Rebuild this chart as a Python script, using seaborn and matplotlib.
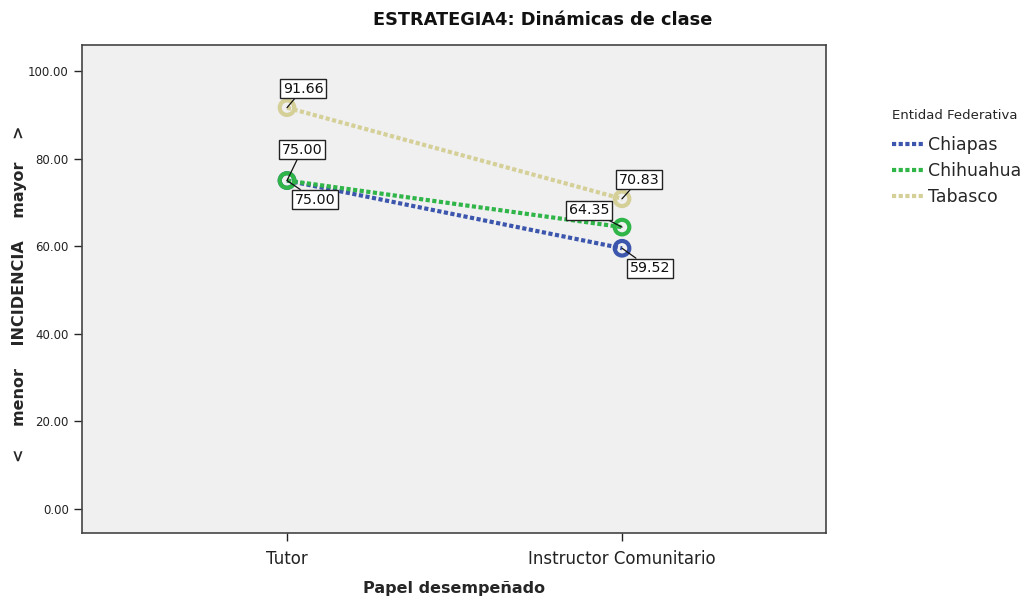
import numpy as np
import pandas as pd
import matplotlib
matplotlib.use("Agg")
import matplotlib.pyplot as plt
import seaborn as sns

roles = ["Tutor", "Instructor Comunitario"]
entidades = ["Chiapas", "Chihuahua", "Tabasco"]
chiapas = [75.00, 59.52]
chihuahua = [75.00, 64.35]
tabasco = [91.66, 70.83]
colors = ["#3c56ad", "#2fb548", "#d5cf98"]

df = pd.DataFrame({
    "Papel": roles * 3,
    "Entidad": [e for e in entidades for _ in roles],
    "Valor": chiapas + chihuahua + tabasco,
})

sns.set_style("white")
plt.rcParams['font.family'] = ['DejaVu Sans']

fig = plt.figure(figsize=(10.3, 5.99), dpi=100)
ax = fig.add_axes([0.0796, 0.110, 0.7224, 0.815])
ax.set_facecolor("#f0f0f0")

sns.lineplot(data=df, x="Papel", y="Valor", hue="Entidad", hue_order=entidades,
             palette=colors, ax=ax, linewidth=3, sort=False, legend=True)
for line in ax.get_lines():
    line.set_dashes((1, 0.6))
# hollow circle markers
for e, c in zip(entidades, colors):
    vals = df[df.Entidad == e]
    ax.scatter(vals["Papel"], vals["Valor"], s=110, facecolors="none",
               edgecolors=c, linewidths=3, zorder=5)

ax.set_xlim(-0.612, 1.609)
ax.set_ylim(-5.6, 106)
ax.set_yticks([0, 20, 40, 60, 80, 100])
ax.set_yticklabels([f"{v:.2f}" for v in [0, 20, 40, 60, 80, 100]], fontsize=8.5, color="#222")
ax.tick_params(axis="x", labelsize=12, colors="#222", length=6, width=1, direction="out",
               bottom=True, pad=6)
ax.tick_params(axis="y", length=6, width=1, direction="out", left=True)
for s in ax.spines.values():
    s.set_color("#444")
    s.set_linewidth(1.2)

ax.set_xlabel("Papel desempeñado", fontsize=11.5, fontweight="bold", labelpad=9.5)
ax.set_ylabel("<    menor    INCIDENCIA    mayor    >", fontsize=11.5, fontweight="bold")
ax.yaxis.set_label_coords(-0.074, 0.49)
fig.text(543 / 1030, 1 - 20 / 599, "ESTRATEGIA4: Dinámicas de clase", fontsize=12.8,
         fontweight="bold", ha="center", va="center", color="#111")

# annotations
offsets = {
    ("Tabasco", 0): (16, 19),
    ("Chihuahua", 0): (15, 31),
    ("Chiapas", 0): (28, -19),
    ("Tabasco", 1): (17, 19),
    ("Chihuahua", 1): (-33, 17),
    ("Chiapas", 1): (28, -20),
}
series = {"Chiapas": chiapas, "Chihuahua": chihuahua, "Tabasco": tabasco}
for (e, i), (dx, dy) in offsets.items():
    v = series[e][i]
    ax.annotate(f"{v:.2f}", xy=(roles[i], v), xytext=(dx, dy), textcoords="offset pixels",
                ha="center", va="center", fontsize=10.3, color="#111",
                bbox=dict(boxstyle="square,pad=0.18", fc="white", ec="#222", lw=1),
                arrowprops=dict(arrowstyle="-", color="#111", lw=0.9, shrinkA=0, shrinkB=0),
                zorder=6)

h, l = ax.get_legend_handles_labels()
leg = ax.legend(h[:3], l[:3], title="Entidad Federativa", loc="upper left",
                bbox_to_anchor=(1.079, 0.883), frameon=False, fontsize=12.5,
                title_fontsize=9.5, handlelength=1.8, handletextpad=0.3,
                labelspacing=0.46, borderaxespad=0)
leg._legend_box.align = "left"
leg._legend_box.sep = 10
for lh, c in zip(leg.get_lines(), colors):
    lh.set_color(c)
    lh.set_linewidth(3)
    lh.set_dashes((1, 0.6))

fig.savefig("out.png", dpi=100)
